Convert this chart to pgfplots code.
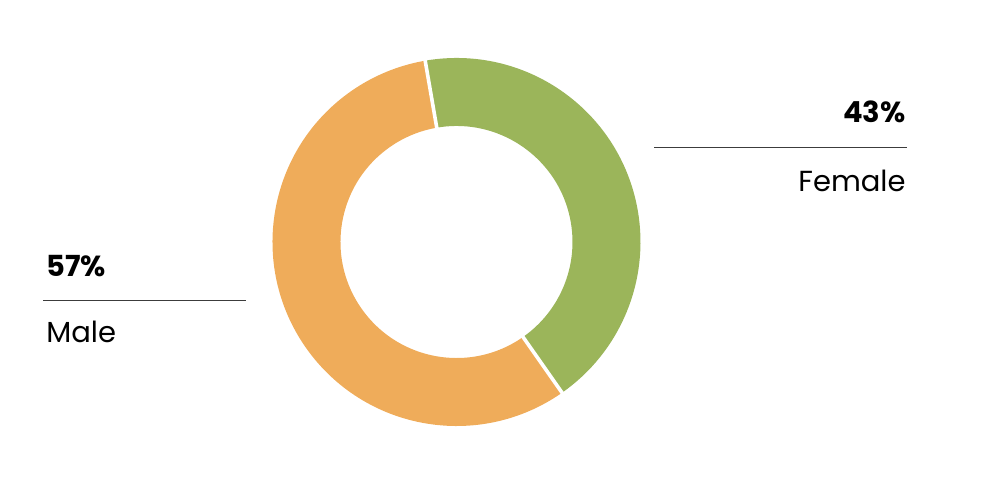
\documentclass[border=0pt]{standalone}
\usepackage{pgfplots}
\pgfplotsset{compat=1.18}
\usepackage{fontspec}
\setmainfont{Poppins}
\definecolor{femgreen}{RGB}{155,181,90}
\definecolor{maleorange}{RGB}{239,172,90}
\definecolor{rulegray}{RGB}{60,60,60}
\begin{document}
\begin{tikzpicture}
\begin{axis}[scale only axis, width=496pt, height=243.5pt,
  xmin=0, xmax=992, ymin=0, ymax=487, hide axis, clip=false]
% data (percent)
\def\female{43}
\def\male{57}
\pgfmathsetmacro\aA{99.8}
\pgfmathsetmacro\aB{\aA-3.6*\female}
\pgfmathsetmacro\aC{\aB-3.6*\male}
\path (rel axis cs:0,0) rectangle (rel axis cs:1,1);
\draw[line width=34pt, femgreen] (axis cs:456.5,245) ++(\aA:75pt) arc[start angle=\aA, end angle=\aB, radius=75pt];
\draw[line width=34pt, maleorange] (axis cs:456.5,245) ++(\aB:75pt) arc[start angle=\aB, end angle=\aC, radius=75pt];
\draw[white, line width=1.8pt] (axis cs:456.5,245) ++(\aA:56pt) -- ++(\aA:38pt);
\draw[white, line width=1.8pt] (axis cs:456.5,245) ++(\aB:56pt) -- ++(\aB:38pt);
% labels
\node[anchor=base east, inner sep=0pt, font=\bfseries\fontsize{14.5pt}{16pt}\selectfont] at (axis cs:906,364) {43\%};
\draw[rulegray, line width=0.5pt] (axis cs:654,339) -- (axis cs:907,339);
\node[anchor=base east, inner sep=0pt, font=\fontsize{14.5pt}{16pt}\selectfont] at (axis cs:906,295) {Female};
\node[anchor=base west, inner sep=0pt, font=\bfseries\fontsize{14.5pt}{16pt}\selectfont] at (axis cs:46,210) {57\%};
\draw[rulegray, line width=0.5pt] (axis cs:43,186) -- (axis cs:246,186);
\node[anchor=base west, inner sep=0pt, font=\fontsize{14.5pt}{16pt}\selectfont] at (axis cs:46,144) {Male};
\end{axis}
\end{tikzpicture}
\end{document}
